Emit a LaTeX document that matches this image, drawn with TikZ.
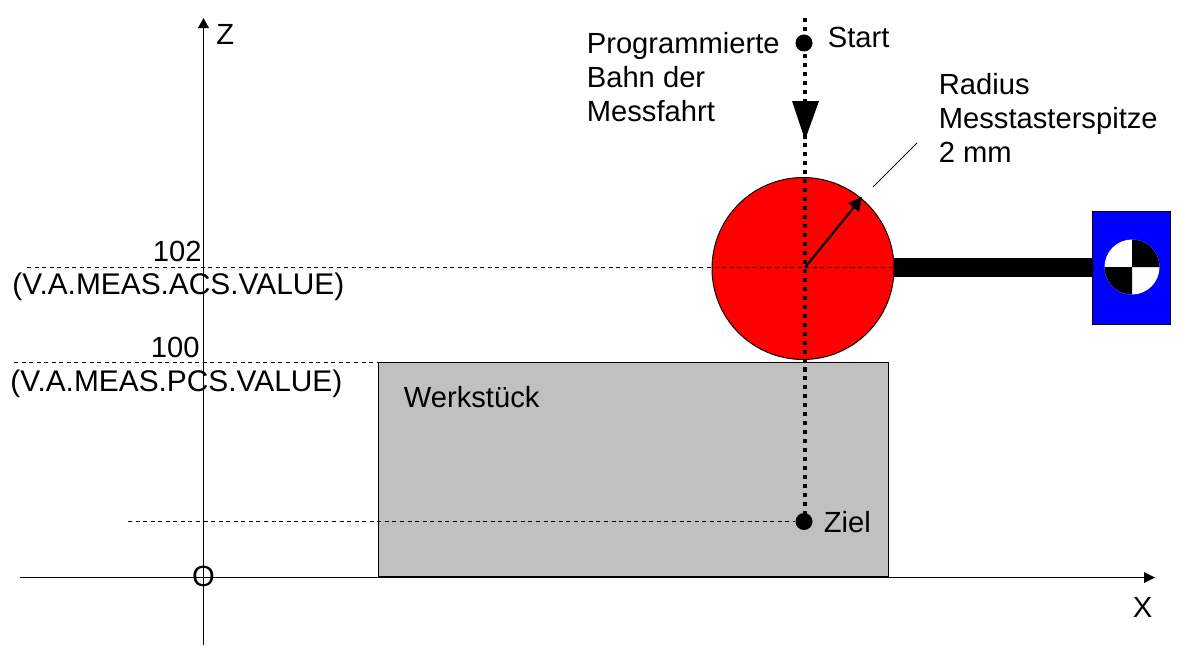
\documentclass[tikz,border=0pt]{standalone}
\usepackage{fontspec}
\setmainfont{Liberation Sans}
\tikzset{
  label/.style={anchor=west,align=left,font=\fontsize{16.6}{19.3}\selectfont},
  widelabel/.style={anchor=west,font=\fontsize{17}{19.3}\selectfont},
  dot/.style={circle,fill=black,minimum size=0.34cm},
  thinline/.style={black,line width=0.55pt},
  hairdash/.style={black,line width=0.45pt,dash pattern=on 2.3pt off 2pt},
  pathdots/.style={black,line width=2.4pt,dash pattern=on 2.3pt off 2.8pt}
}
\begin{document}
\begin{tikzpicture}[x=0.02cm,y=0.02cm]
\tikzstyle{every node}+=[inner sep=0pt]
\useasboundingbox (0,0) rectangle (1182,-646);
\coordinate (zbot) at (203.5,-645);
\coordinate (ztop) at (203.5,-18);
\coordinate (xleft) at (20,-577.5);
\coordinate (xright) at (1155,-577.5);
\coordinate (ball) at (803,-268.5);
\coordinate (centre) at (805,-267.5);
\coordinate (target) at (1132,-267);
% workpiece
\draw [thinline,fill={rgb,255:red,192;green,192;blue,192}] (378.5,-362.5) rectangle (888.5,-576.5);
% axes
\draw [thinline] (zbot) -- (203.5,-26);
\fill [black] (ztop) -- (198,-28) -- (209,-28);
\draw [thinline] (xleft) -- (1145,-577.5);
\fill [black] (xright) -- (1144,-572) -- (1144,-583);
\draw [black,line width=1.15pt] (378,-577) -- (587,-577);
% probe
\draw [thinline,fill=red] (ball) circle (91);
\fill [black] (894,-258) rectangle (1092.5,-277);
\draw [thinline,fill=blue] (1092.5,-211.5) rectangle (1170.5,-324.5);
\fill [white] (target) circle (27.5);
\fill [black] (target) -- (1132,-239.5) arc (90:0:27.5) -- cycle;
\fill [black] (target) -- (1104.5,-267) arc (180:270:27.5) -- cycle;
% reference lines
\draw [hairdash] (27,-267.5) -- (1100,-267.5);
\draw [hairdash] (14,-362) -- (378,-362);
\node (ziel) [dot] at (804,-521.5) {};
\node (start) [dot] at (804,-43) {};
\draw [hairdash] (128,-521.5) -- (ziel);
% travel path
\draw [pathdots] (805,-18) -- (805,-521);
\fill [black] (792,-101) -- (819,-101) -- (805,-140);
% radius
\coordinate (rim) at (862,-197);
\draw [black,line width=1.2pt] (centre) -- (855,-206);
\fill [black] (rim) -- (848,-203) -- (859,-212);
\draw [thinline] (873,-187) -- (917,-143);
% labels
\node (zlabel) [label] at (216,-34) {Z};
\node (xlabel) [label] at (1132.5,-607) {X};
\node (olabel) [label,anchor=center] at (203.5,-576) {O};
\node (acsval) [label,anchor=east] at (202,-251) {102};
\node (acsname) [widelabel] at (12,-287) {(V.A.MEAS.ACS.VALUE)};
\node (pcsval) [label,anchor=east] at (200,-347) {100};
\node (pcsname) [widelabel] at (10,-384) {(V.A.MEAS.PCS.VALUE)};
\node (werk) [label] at (403.5,-397) {Werkstück};
\node (bahn) [label] at (586.5,-77) {Programmierte\\Bahn der\\Messfahrt};
\node (radius) [label] at (938.5,-118) {Radius\\Messtasterspitze\\2 mm};
\node (startlabel) [label] at (827.5,-37) {Start};
\node (ziellabel) [label] at (823.5,-522) {Ziel};
\end{tikzpicture}
\end{document}
